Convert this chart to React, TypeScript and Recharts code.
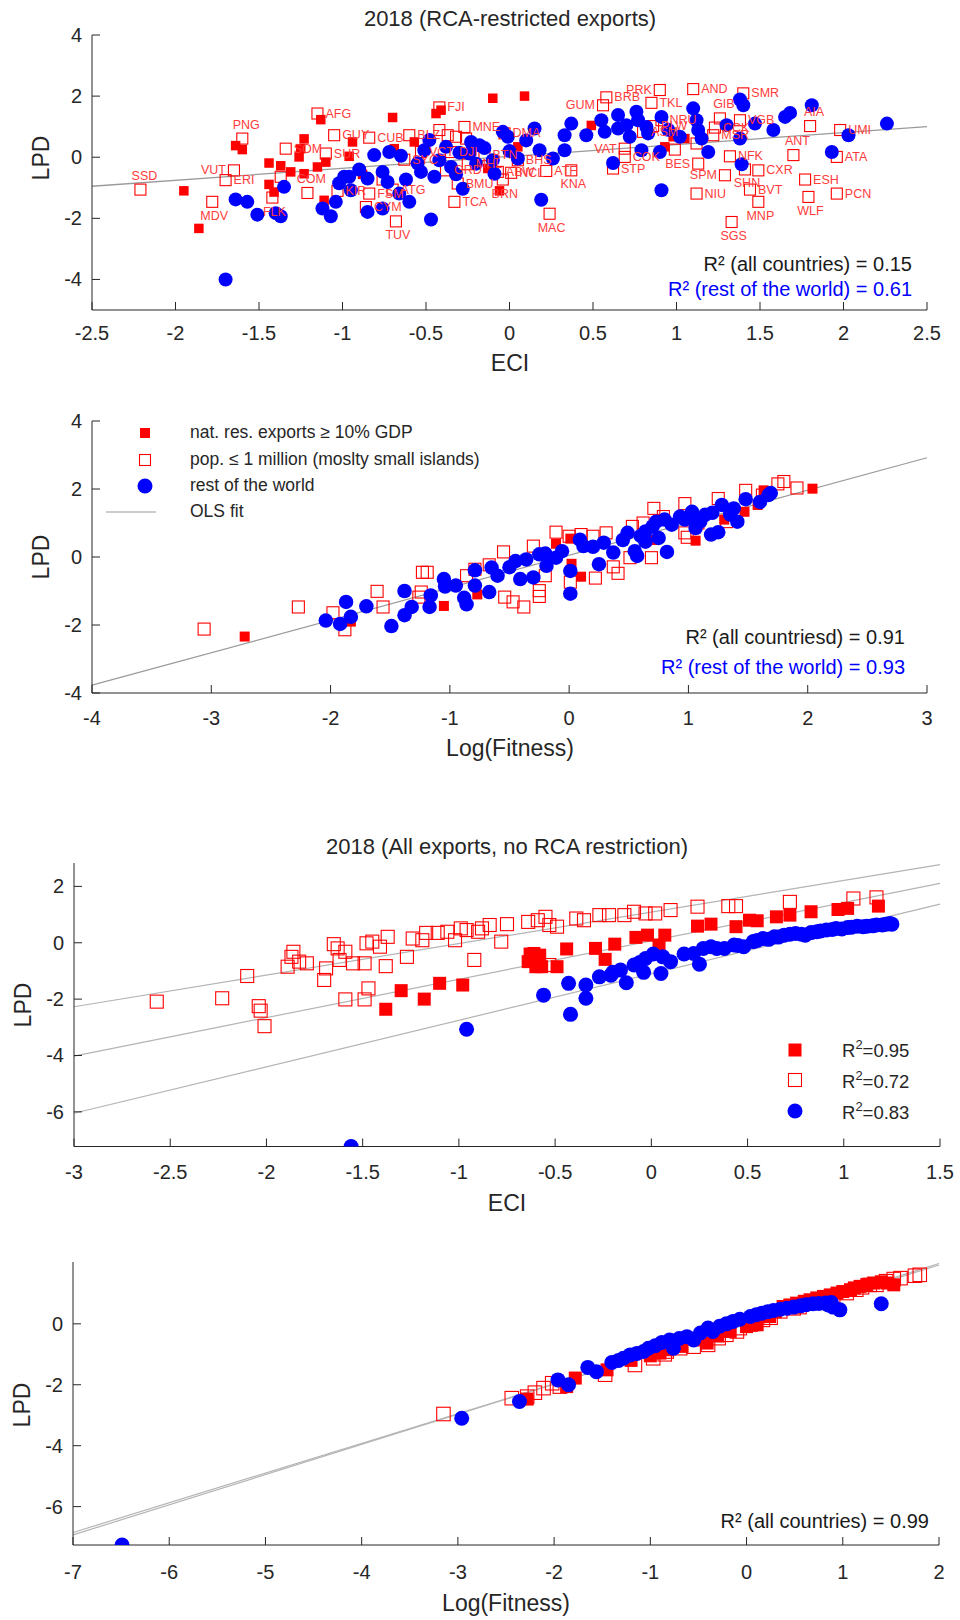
import React from 'react';
import { ScatterChart, Scatter, XAxis, YAxis, ReferenceLine } from 'recharts';

const FONT = '"Liberation Sans", Arial, Helvetica, sans-serif';
const AX = '#262626';
const RED = '#ff0000';
const BLUE = '#0000ff';
const LABEL_RED = '#ff3b3b';
const FIT_DARK = '#9a9a9a';
const FIT_LIGHT = '#b4b4b4';

type Pair = [number, number];
type Coded = [string, number, number];

// ---------------- Panel 1: ECI (RCA-restricted) vs LPD ----------------
const p1XTicks = [-2.5, -2, -1.5, -1, -0.5, 0, 0.5, 1, 1.5, 2, 2.5];
const p1YTicks = [-4, -2, 0, 2, 4];
const p1NatRes: Pair[] = [
  [-1.95, -1.1], [-1.86, -2.33], [-1.64, 0.38], [-1.6, 0.25], [-1.44, -0.19], [-1.37, -0.28],
  [-1.44, -0.89], [-1.41, -1.14], [-1.31, -0.48], [-1.23, 0.6], [-1.25, 0.28], [-1.26, 0.01],
  [-1.15, -0.32], [-1.1, -0.16], [-1.13, 1.23], [-0.96, 0.03], [-0.94, 0.5], [-1.11, -1.41],
  [-0.7, 1.3], [-0.69, 0.28], [-0.88, -0.56], [-0.44, 1.43], [-0.41, 1.54], [-0.1, 1.93],
  [0.09, 2.0], [0.05, 0.34], [-0.13, -0.37], [-0.06, -1.1], [0.49, 1.04], [0.93, 0.34],
  [0.98, 0.67], [1.05, 0.61], [-0.57, 0.5], [-1.23, -0.54],
];
const p1Rest: Pair[] = [
  [-1.7, -4.0], [-1.64, -1.38], [-1.57, -1.46], [-1.51, -1.88], [-1.4, -1.83], [-1.37, -1.93],
  [-1.35, -0.97], [-1.12, -1.68], [-1.07, -1.93], [-1.04, -1.46], [-0.99, -0.64], [-0.96, -0.64],
  [-0.95, -1.08], [-0.85, -0.7], [-0.85, -1.79], [-0.81, 0.07], [-0.76, -0.48], [-0.76, -1.68],
  [-0.72, 0.17], [-0.73, -0.81], [-0.66, -1.19], [-0.62, -0.73], [-0.6, -1.46], [-0.53, -0.48],
  [-0.51, 0.23], [-0.48, 0.56], [-0.47, -2.04], [-0.45, -0.64], [-0.42, -0.1], [-0.38, 0.34],
  [-0.35, -0.32], [-0.32, -0.56], [-0.28, -1.03], [-0.24, 0.12], [-0.23, 0.5], [-0.18, 0.39],
  [-0.2, -0.21], [-0.1, -0.1], [-0.09, -0.54], [-0.04, 0.83], [-0.01, 0.67], [0.05, -0.04],
  [0.15, 0.94], [0.18, 0.23], [0.19, -1.39], [0.26, -0.04], [0.33, 0.23], [0.33, 0.72],
  [0.37, 1.1], [0.46, 0.72], [0.55, 1.21], [0.57, 0.83], [0.62, -0.19], [0.65, 1.38],
  [0.65, 0.94], [0.72, 0.67], [0.76, 1.49], [0.77, 1.21], [0.79, 0.23], [0.82, 0.99],
  [0.83, 0.78], [0.91, -1.08], [0.91, 1.32], [0.9, 0.17], [1.02, 0.67], [1.1, 1.6],
  [1.12, 1.21], [1.13, 0.89], [1.15, 0.61], [1.19, 0.17], [1.3, 1.05], [1.38, 1.89],
  [1.4, 1.7], [1.38, 0.61], [1.39, -0.23], [1.47, 1.1], [1.58, 0.89], [1.65, 1.32],
  [1.68, 1.45], [1.81, 1.7], [1.93, 0.17], [2.03, 0.72], [2.26, 1.1], [-0.9, -0.4],
  [-0.65, 0.05], [-0.55, -0.2], [-0.3, 0.15], [-0.15, 0.3], [0.1, 0.55], [0.0, 0.2],
  [0.7, 1.05], [0.95, 0.9], [-1.02, -0.85],
];
const p1Small: Coded[] = [
  ['SSD', -2.21, -1.06], ['MDV', -1.78, -1.46], ['PNG', -1.6, 0.61], ['VUT', -1.65, -0.43],
  ['ERI', -1.7, -0.75], ['AFG', -1.15, 1.43], ['SOM', -1.34, 0.28], ['GUY', -1.05, 0.72],
  ['SUR', -1.1, 0.12], ['CUB', -0.84, 0.64], ['COM', -1.21, -1.17], ['FLK', -1.42, -1.32],
  ['KIR', -1.03, -1.1], ['FSM', -0.84, -1.19], ['CYM', -0.86, -1.63], ['ATG', -0.7, -1.06],
  ['TUV', -0.68, -2.1], ['TCA', -0.33, -1.46], ['MAC', 0.24, -1.85], ['SGS', 1.33, -2.12],
  ['FJI', -0.42, 1.63], ['MNE', -0.27, 0.99], ['BLZ', -0.6, 0.72], ['SYC', -0.63, -0.08],
  ['VCT', -0.53, 0.17], ['DJI', -0.35, 0.17], ['GRD', -0.38, -0.43], ['BMU', -0.31, -0.86],
  ['BTN', -0.15, 0.07], ['MHL', -0.25, -0.23], ['DMA', -0.03, 0.78], ['BHS', 0.05, -0.1],
  ['ABW', -0.07, -0.48], ['NCL', 0.01, -0.51], ['BRN', -0.04, -0.73], ['ATF', 0.22, -0.45],
  ['KNA', 0.37, -0.43], ['GUM', 0.56, 1.7], ['BRB', 0.58, 1.96], ['PRK', 0.9, 2.2],
  ['TKL', 0.85, 1.78], ['AND', 1.1, 2.23], ['SMR', 1.4, 2.09], ['NRU', 0.91, 1.21],
  ['PLW', 0.86, 1.02], ['ASM', 0.8, 0.83], ['VAT', 0.69, 0.28], ['COK', 0.69, 0.01],
  ['STP', 0.62, -0.37], ['MSR', 1.22, 0.72], ['GIB', 1.26, 1.27], ['CCK', 1.23, 0.97],
  ['VGB', 1.38, 1.21], ['AIA', 1.8, 1.02], ['UMI', 1.98, 0.89], ['ANT', 1.7, 0.07],
  ['ATA', 1.96, 0.01], ['BES', 1.13, -0.21], ['NFK', 1.32, 0.03], ['SPM', 1.29, -0.59],
  ['SHN', 1.41, -0.4], ['CXR', 1.49, -0.43], ['ESH', 1.77, -0.73], ['NIU', 1.12, -1.19],
  ['BVT', 1.44, -1.06], ['MNP', 1.49, -1.46], ['WLF', 1.79, -1.3], ['PCN', 1.96, -1.19],
  ['', -0.42, 0.89], ['', -0.37, 0.72], ['', -0.32, 0.67], ['', -0.26, 0.61],
  ['', -1.37, -0.64], ['', -0.76, -0.73], ['', 0.99, 0.25], ['', 1.12, 0.45],
];
const p1Fit: Pair[] = [[-2.5, -0.95], [2.5, 1.0]];

// where a country code sits relative to its marker (layout, default: right)
const LABEL_SIDE: Record<string, 'a' | 'b' | 'l'> = {
  SSD: 'a', PNG: 'a', COM: 'a', ANT: 'a', AIA: 'a', GIB: 'a',
  MDV: 'b', FLK: 'b', TUV: 'b', MAC: 'b', SGS: 'b', MNP: 'b', WLF: 'b', KNA: 'b', SHN: 'b', BRN: 'b',
  VUT: 'l', GUM: 'l', PRK: 'l', VAT: 'l', BES: 'l', SPM: 'l',
};

// ---------------- Panel 2: Log(Fitness) (RCA-restricted) vs LPD ----------------
const p2XTicks = [-4, -3, -2, -1, 0, 1, 2, 3];
const p2YTicks = [-4, -2, 0, 2, 4];
const p2NatRes: Pair[] = [
  [-2.72, -2.34], [-1.83, -1.9], [-1.05, -1.44], [-0.77, -1.1], [-0.11, 0.39], [0.01, 0.54],
  [0.1, -0.58], [0.02, -0.2], [1.06, 0.48], [1.47, 1.33], [1.58, 1.53], [1.63, 1.96],
  [2.04, 2.01], [0.72, 0.5], [1.3, 1.1],
];
const p2Small: Pair[] = [
  [-3.06, -2.12], [-2.27, -1.47], [-1.98, -1.64], [-1.88, -2.14], [-1.61, -1.01], [-1.56, -1.47],
  [-1.23, -0.45], [-1.19, -0.45], [-1.24, -1.03], [-1.26, -1.18], [-0.86, -0.55], [-0.79, -0.36],
  [-0.67, -0.23], [-0.55, 0.15], [-0.54, -1.18], [-0.47, -1.32], [-0.38, -1.47], [-0.3, 0.32],
  [-0.25, -0.99], [-0.25, -1.16], [-0.2, -0.55], [-0.11, 0.73], [0.0, 0.61], [0.01, -0.74],
  [0.1, 0.66], [0.2, 0.61], [0.22, -0.62], [0.31, 0.71], [0.37, -0.29], [0.41, -0.48],
  [0.51, -0.02], [0.53, 0.9], [0.62, 1.0], [0.69, -0.02], [0.71, 1.43], [0.97, 1.57],
  [0.79, 1.19], [0.99, 0.58], [0.97, 0.71], [1.08, 1.0], [1.25, 1.72], [1.32, 1.04],
  [1.48, 1.96], [1.75, 2.15], [1.8, 2.22], [1.91, 2.03], [1.62, 1.82],
];
const p2Rest: Pair[] = [
  [-2.04, -1.87], [-1.92, -1.97], [-1.87, -1.32], [-1.83, -1.76], [-1.7, -1.45], [-1.49, -2.03],
  [-1.38, -1.0], [-1.38, -1.71], [-1.32, -1.47], [-1.17, -1.47], [-1.16, -1.13], [-1.05, -0.65],
  [-1.04, -0.87], [-0.95, -0.84], [-0.88, -1.2], [-0.86, -1.39], [-0.79, -0.39], [-0.79, -0.84],
  [-0.67, -1.03], [-0.65, -0.31], [-0.6, -0.55], [-0.45, -0.12], [-0.41, -0.65], [-0.36, -0.07],
  [-0.3, -0.6], [-0.25, 0.08], [-0.19, -0.26], [-0.11, -0.02], [-0.06, 0.17], [0.01, -0.41],
  [0.01, -1.08], [0.09, 0.51], [0.12, 0.32], [0.25, -0.21], [0.29, 0.42], [0.37, 0.13],
  [0.49, 0.71], [0.55, 0.17], [0.57, 0.03], [0.64, 0.75], [0.73, 1.04], [0.75, 0.56],
  [0.82, 0.15], [0.86, 0.95], [0.93, 1.19], [1.03, 1.33], [1.06, 0.85], [1.14, 1.24],
  [1.19, 0.66], [1.25, 0.73], [1.28, 1.53], [1.38, 1.43], [1.41, 1.04], [1.48, 1.7],
  [1.6, 1.62], [1.67, 1.82], [1.69, 1.88], [0.64, 0.45], [0.97, 1.1], [0.45, 0.5],
  [0.7, 0.9], [0.8, 1.1], [1.0, 1.15], [1.1, 1.05], [1.2, 1.3], [1.35, 1.25], [0.6, 0.62],
  [-0.5, -0.3], [-0.2, 0.1], [0.2, 0.3],
];
const p2Fit: Pair[] = [[-4, -3.77], [3, 2.92]];

// ---------------- Panel 3: ECI (all exports) vs LPD ----------------
const p3XTicks = [-3, -2.5, -2, -1.5, -1, -0.5, 0, 0.5, 1, 1.5];
const p3YTicks = [-6, -4, -2, 0, 2];
const p3NatRes: Pair[] = [
  [-1.38, -2.36], [-1.3, -1.7], [-1.18, -2.0], [-1.1, -1.44], [-0.98, -1.5], [-0.64, -0.67],
  [-0.61, -0.38], [-0.6, -0.85], [-0.63, -0.4], [-0.58, -0.44], [-0.57, -0.85], [-0.49, -0.85],
  [-0.44, -0.22], [-0.29, -0.2], [-0.24, -0.59], [-0.19, -0.05], [-0.08, 0.19], [-0.02, 0.27],
  [0.07, 0.27], [0.04, -0.08], [0.24, 0.59], [0.31, 0.66], [0.44, 0.57], [0.51, 0.8],
  [0.55, 0.78], [0.65, 0.92], [0.72, 0.98], [0.83, 1.1], [0.97, 1.18], [1.02, 1.22], [1.18, 1.3],
];
const p3Small: Pair[] = [
  [-2.57, -2.09], [-2.23, -1.97], [-2.1, -1.18], [-2.04, -2.25], [-2.03, -2.41], [-2.01, -2.96],
  [-1.89, -0.85], [-1.87, -0.5], [-1.86, -0.32], [-1.83, -0.67], [-1.79, -0.73], [-1.7, -1.32],
  [-1.69, -0.91], [-1.65, -0.05], [-1.63, -0.2], [-1.62, -0.61], [-1.59, -0.32], [-1.55, -0.73],
  [-1.49, -0.73], [-1.59, -2.01], [-1.49, -2.01], [-1.47, -1.62], [-1.48, -0.02], [-1.45, 0.04],
  [-1.41, -0.14], [-1.38, -0.83], [-1.37, 0.21], [-1.27, -0.5], [-1.24, 0.15], [-1.19, 0.09],
  [-1.17, 0.35], [-1.11, 0.35], [-1.06, 0.39], [-1.02, 0.09], [-0.99, 0.51], [-0.96, 0.45],
  [-0.92, -0.61], [-0.9, 0.39], [-0.88, 0.51], [-0.84, 0.63], [-0.78, 0.04], [-0.75, 0.66],
  [-0.64, 0.74], [-0.59, 0.8], [-0.55, 0.92], [-0.53, 0.63], [-0.49, 0.57], [-0.39, 0.86],
  [-0.35, 0.8], [-0.27, 0.98], [-0.22, 0.98], [-0.14, 0.98], [-0.09, 1.1], [-0.03, 1.04],
  [0.02, 1.04], [0.1, 1.16], [0.24, 1.28], [0.4, 1.3], [0.44, 1.3], [0.72, 1.45],
  [1.05, 1.57], [1.17, 1.61], [-0.53, -0.79],
];
const p3Rest: Pair[] = [
  [-1.56, -7.23], [-0.96, -3.07], [-0.56, -1.86], [-0.43, -1.44], [-0.42, -2.54], [-0.34, -1.97],
  [-0.34, -1.5], [-0.27, -1.21], [-0.21, -1.15], [-0.16, -0.97], [-0.13, -1.42], [-0.09, -0.79],
  [-0.04, -1.05], [-0.03, -0.56], [0.01, -0.4], [0.05, -1.09], [0.06, -0.5], [0.1, -0.67],
  [0.17, -0.4], [0.22, -0.38], [0.25, -0.76], [0.31, -0.14], [0.34, -0.2], [0.38, -0.2],
  [0.43, -0.08], [0.48, -0.14], [0.53, 0.04], [0.58, 0.15], [0.61, 0.12], [0.64, 0.21],
  [0.69, 0.27], [0.72, 0.3], [0.75, 0.33], [0.8, 0.27], [0.83, 0.36], [0.86, 0.39],
  [0.91, 0.45], [0.96, 0.51], [0.99, 0.49], [1.02, 0.54], [1.07, 0.59], [1.12, 0.59],
  [1.17, 0.63], [1.2, 0.63], [1.22, 0.66], [1.25, 0.66], [0.27, -0.2], [0.45, -0.1],
  [0.55, 0.08], [0.66, 0.2], [0.78, 0.3], [0.88, 0.42], [0.94, 0.47], [1.04, 0.55],
  [1.1, 0.57], [1.15, 0.6], [1.24, 0.68], [-0.2, -1.05], [-0.06, -0.7],
];
const p3FitNatRes: Pair[] = [[-3, -4.02], [1.5, 2.11]];
const p3FitSmall: Pair[] = [[-3, -2.27], [1.5, 2.77]];
const p3FitRest: Pair[] = [[-3, -6.05], [1.5, 1.37]];

// ---------------- Panel 4: Log(Fitness) (all exports) vs LPD ----------------
const p4XTicks = [-7, -6, -5, -4, -3, -2, -1, 0, 1, 2];
const p4YTicks = [-6, -4, -2, 0];
const p4NatRes: Pair[] = [
  [-2.28, -2.47], [-1.78, -1.78], [-1.87, -2.06], [-1.45, -1.51], [-0.9, -0.96], [-0.83, -0.85],
  [-0.67, -0.74], [-0.48, -0.53], [-0.41, -0.63], [-0.17, -0.25], [0.0, -0.09], [0.11, -0.03],
  [0.24, 0.24], [0.38, 0.57], [0.52, 0.68], [0.66, 0.79], [0.8, 0.9], [0.94, 1.01],
  [1.08, 1.12], [1.18, 1.23], [1.32, 1.34], [1.46, 1.34], [1.53, 1.28], [-0.3, -0.4],
  [0.05, -0.05], [0.3, 0.4], [0.45, 0.62], [0.6, 0.74], [0.73, 0.85], [0.87, 0.95],
  [1.0, 1.06], [1.12, 1.18], [1.25, 1.29], [1.4, 1.38], [-1.2, -1.2], [-1.0, -1.05],
];
const p4Small: Pair[] = [
  [-3.15, -2.96], [-2.44, -2.44], [-2.28, -2.39], [-2.2, -2.26], [-2.11, -2.11], [-2.02, -1.95],
  [-1.94, -2.06], [-1.47, -1.67], [-1.16, -1.35], [-0.97, -1.13], [-0.83, -0.91], [-0.69, -0.8],
  [-0.4, -0.69], [-0.29, -0.47], [-0.21, -0.36], [-0.07, -0.14], [0.07, 0.0], [0.17, 0.13],
  [0.35, 0.41], [0.49, 0.51], [0.63, 0.68], [0.76, 0.79], [0.9, 0.9], [1.04, 1.01],
  [1.14, 1.12], [1.28, 1.28], [1.35, 1.28], [1.53, 1.47], [1.75, 1.58], [1.8, 1.61],
  [-0.55, -0.75], [-0.85, -1.0], [-0.1, -0.25], [0.25, 0.2], [0.55, 0.55], [1.2, 1.2],
  [1.6, 1.5], [1.45, 1.4],
];
const p4Rest: Pair[] = [
  [-6.49, -7.26], [-2.96, -3.1], [-2.36, -2.55], [-1.96, -1.84], [-1.85, -2.0], [-1.65, -1.43],
  [-1.56, -1.57], [-1.4, -1.27], [-1.28, -1.13], [-1.21, -1.02], [-1.07, -0.91], [-1.02, -0.8],
  [-0.88, -0.61], [-0.8, -0.53], [-0.76, -0.8], [-0.62, -0.42], [-0.55, -0.53], [-0.4, -0.14],
  [-0.35, -0.25], [-0.21, 0.0], [-0.07, 0.15], [0.04, 0.24], [0.16, 0.35], [0.28, 0.44],
  [0.42, 0.51], [0.56, 0.59], [0.69, 0.66], [0.82, 0.68], [0.88, 0.7], [0.97, 0.46], [1.4, 0.66],
  [-1.33, -1.2], [-1.14, -0.97], [-0.95, -0.72], [-0.7, -0.48], [-0.48, -0.3], [-0.28, -0.08],
  [-0.14, 0.08], [0.1, 0.3], [0.22, 0.4], [0.35, 0.48], [0.49, 0.55], [0.62, 0.63],
  [0.75, 0.67], [0.85, 0.62], [0.9, 0.55],
];
const p4FitA: Pair[] = [[-7, -6.93], [2, 1.98]];
const p4FitB: Pair[] = [[-7, -6.85], [2, 1.93]];

// ---------------- helpers ----------------
const pts = (a: Pair[]) => a.map(([x, y]) => ({ x, y }));
const coded = (a: Coded[]) => a.map(([code, x, y]) => ({ code, x, y }));
const seg = (a: Pair[]) => a.map(([x, y]) => ({ x, y }));

const filledSquare = (s: number) => (p: any) => (
  <rect x={p.cx - s / 2} y={p.cy - s / 2} width={s} height={s} fill={RED} />
);
const openSquare = (s: number) => (p: any) => (
  <rect x={p.cx - s / 2} y={p.cy - s / 2} width={s} height={s} fill="none" stroke={RED} strokeWidth={1.1} />
);
const dot = (d: number) => (p: any) => <circle cx={p.cx} cy={p.cy} r={d / 2} fill={BLUE} />;

const codeLabel = (p: any) => {
  const code = p.payload?.code;
  if (!code) return <g />;
  const side = LABEL_SIDE[code];
  let x = p.cx + 8;
  let y = p.cy + 4;
  let anchor: 'start' | 'middle' | 'end' = 'start';
  if (side === 'a') { x = p.cx + 4; y = p.cy - 10; anchor = 'middle'; }
  if (side === 'b') { x = p.cx + 2; y = p.cy + 18; anchor = 'middle'; }
  if (side === 'l') { x = p.cx - 8; anchor = 'end'; }
  return (
    <text x={x} y={y} textAnchor={anchor} fontSize={12.5} fill={LABEL_RED} fontFamily={FONT}>
      {code}
    </text>
  );
};

const xTick = (offset: number) => (p: any) => (
  <g>
    <line x1={p.x} x2={p.x} y1={p.y} y2={p.y - 8} stroke={AX} strokeWidth={1} />
    <text x={p.x} y={p.y + offset} textAnchor="middle" fontSize={20} fill={AX} fontFamily={FONT}>
      {String(p.payload.value)}
    </text>
  </g>
);
const yTick = (p: any) => (
  <g>
    <line x1={p.x} x2={p.x + 8} y1={p.y} y2={p.y} stroke={AX} strokeWidth={1} />
    <text x={p.x - 10} y={p.y + 7} textAnchor="end" fontSize={20} fill={AX} fontFamily={FONT}>
      {String(p.payload.value)}
    </text>
  </g>
);

type PanelProps = {
  top: number;
  height: number;
  left: number;
  right: number;
  plotTop: number;
  plotBottom: number;
  xDomain: [number, number];
  yDomain: [number, number];
  xTicks: number[];
  yTicks: number[];
  tickOffset: number;
  children: React.ReactNode;
};

function Panel(props: PanelProps) {
  const { top, height, left, right, plotTop, plotBottom, xDomain, yDomain, xTicks, yTicks, tickOffset, children } = props;
  return (
    <div style={{ position: 'absolute', left: 0, top, width: 960, height }}>
      <ScatterChart
        width={960}
        height={height}
        margin={{ top: plotTop, right: 960 - right, bottom: 0, left: 0 }}
      >
        <XAxis
          type="number"
          dataKey="x"
          domain={xDomain}
          ticks={xTicks}
          interval={0}
          height={height - plotBottom}
          tickSize={0}
          tickMargin={0}
          tickLine={false}
          axisLine={{ stroke: AX, strokeWidth: 1 }}
          tick={xTick(tickOffset)}
          allowDataOverflow
        />
        <YAxis
          type="number"
          dataKey="y"
          domain={yDomain}
          ticks={yTicks}
          interval={0}
          width={left}
          tickSize={0}
          tickMargin={0}
          tickLine={false}
          axisLine={{ stroke: AX, strokeWidth: 1 }}
          tick={yTick}
          allowDataOverflow
        />
        {children}
      </ScatterChart>
    </div>
  );
}

const textBase: React.CSSProperties = {
  position: 'absolute',
  fontFamily: FONT,
  whiteSpace: 'nowrap',
  lineHeight: 1,
};

function Centered({ x, y, size, children, color = AX }: { x: number; y: number; size: number; children: React.ReactNode; color?: string }) {
  return (
    <div style={{ ...textBase, left: x, top: y, fontSize: size, color, transform: 'translate(-50%, -50%)' }}>
      {children}
    </div>
  );
}
function RightText({ x, y, size, children, color = '#1a1a1a' }: { x: number; y: number; size: number; children: React.ReactNode; color?: string }) {
  return (
    <div style={{ ...textBase, right: 960 - x, top: y, fontSize: size, color, transform: 'translateY(-50%)' }}>
      {children}
    </div>
  );
}
function VLabel({ x, y, size, children }: { x: number; y: number; size: number; children: React.ReactNode }) {
  return (
    <div style={{ ...textBase, left: x, top: y, fontSize: size, color: AX, transform: 'translate(-50%, -50%) rotate(-90deg)' }}>
      {children}
    </div>
  );
}

function LegendMarker({ kind, size }: { kind: 'filled' | 'open' | 'dot' | 'line'; size: number }) {
  if (kind === 'line') {
    return (
      <svg width={50} height={10} style={{ display: 'block' }}>
        <line x1={0} x2={50} y1={5} y2={5} stroke={FIT_DARK} strokeWidth={1.2} />
      </svg>
    );
  }
  const w = 18;
  return (
    <svg width={w} height={w} style={{ display: 'block' }}>
      {kind === 'filled' && <rect x={(w - size) / 2} y={(w - size) / 2} width={size} height={size} fill={RED} />}
      {kind === 'open' && (
        <rect x={(w - size) / 2} y={(w - size) / 2} width={size} height={size} fill="none" stroke={RED} strokeWidth={1.1} />
      )}
      {kind === 'dot' && <circle cx={w / 2} cy={w / 2} r={size / 2} fill={BLUE} />}
    </svg>
  );
}

function Abs({ x, y, children }: { x: number; y: number; children: React.ReactNode }) {
  return <div style={{ position: 'absolute', left: x, top: y, transform: 'translate(-50%, -50%)' }}>{children}</div>;
}

const R2 = () => (
  <span>
    R<sup style={{ fontSize: '0.7em', verticalAlign: '0.6em', lineHeight: 0 }}>2</sup>
  </span>
);

export default function App() {
  return (
    <div style={{ position: 'absolute', left: 0, top: 0, width: 960, height: 1620, background: '#fff', fontFamily: FONT }}>
      {/* Panel 1 */}
      <Panel top={0} height={380} left={92} right={927} plotTop={35} plotBottom={310}
        xDomain={[-2.5, 2.5]} yDomain={[-5, 4]} xTicks={p1XTicks} yTicks={p1YTicks} tickOffset={30}>
        <Scatter data={pts(p1NatRes)} shape={filledSquare(9.5)} isAnimationActive={false} />
        <Scatter data={coded(p1Small)} shape={openSquare(11)} isAnimationActive={false} />
        <Scatter data={pts(p1Rest)} shape={dot(14)} isAnimationActive={false} />
        <ReferenceLine segment={seg(p1Fit)} stroke={FIT_DARK} strokeWidth={1.3} />
        <Scatter data={coded(p1Small)} shape={codeLabel} isAnimationActive={false} />
      </Panel>
      <Centered x={510} y={19} size={22}>2018 (RCA-restricted exports)</Centered>
      <Centered x={510} y={363} size={23}>ECI</Centered>
      <VLabel x={41} y={158} size={23}>LPD</VLabel>
      <RightText x={912} y={264} size={20}>R² (all countries) = 0.15</RightText>
      <RightText x={912} y={289} size={20} color={BLUE}>R² (rest of the world) = 0.61</RightText>

      {/* Panel 2 */}
      <Panel top={380} height={400} left={92} right={927} plotTop={41} plotBottom={313}
        xDomain={[-4, 3]} yDomain={[-4, 4]} xTicks={p2XTicks} yTicks={p2YTicks} tickOffset={32}>
        <Scatter data={pts(p2NatRes)} shape={filledSquare(10)} isAnimationActive={false} />
        <Scatter data={pts(p2Small)} shape={openSquare(12)} isAnimationActive={false} />
        <Scatter data={pts(p2Rest)} shape={dot(14.5)} isAnimationActive={false} />
        <ReferenceLine segment={seg(p2Fit)} stroke={FIT_DARK} strokeWidth={1.2} />
      </Panel>
      <Abs x={145} y={433}><LegendMarker kind="filled" size={10} /></Abs>
      <Abs x={145} y={460}><LegendMarker kind="open" size={11} /></Abs>
      <Abs x={145} y={486}><LegendMarker kind="dot" size={15} /></Abs>
      <Abs x={131} y={512}><LegendMarker kind="line" size={0} /></Abs>
      <div style={{ ...textBase, left: 190, top: 433, fontSize: 17.5, color: AX, transform: 'translateY(-50%)' }}>nat. res. exports ≥ 10% GDP</div>
      <div style={{ ...textBase, left: 190, top: 460, fontSize: 17.5, color: AX, transform: 'translateY(-50%)' }}>pop. ≤ 1 million (moslty small islands)</div>
      <div style={{ ...textBase, left: 190, top: 486, fontSize: 17.5, color: AX, transform: 'translateY(-50%)' }}>rest of the world</div>
      <div style={{ ...textBase, left: 190, top: 512, fontSize: 17.5, color: AX, transform: 'translateY(-50%)' }}>OLS fit</div>
      <Centered x={510} y={748} size={23}>Log(Fitness)</Centered>
      <VLabel x={41} y={557} size={23}>LPD</VLabel>
      <RightText x={905} y={637} size={20}>R² (all countriesd) = 0.91</RightText>
      <RightText x={905} y={667} size={20} color={BLUE}>R² (rest of the world) = 0.93</RightText>

      {/* Panel 3 */}
      <Panel top={780} height={440} left={74} right={940} plotTop={83} plotBottom={366.5}
        xDomain={[-3, 1.5]} yDomain={[-7.23, 2.83]} xTicks={p3XTicks} yTicks={p3YTicks} tickOffset={32}>
        <Scatter data={pts(p3Small)} shape={openSquare(13)} isAnimationActive={false} />
        <Scatter data={pts(p3NatRes)} shape={filledSquare(13)} isAnimationActive={false} />
        <Scatter data={pts(p3Rest)} shape={dot(15)} isAnimationActive={false} />
        <ReferenceLine segment={seg(p3FitSmall)} stroke={FIT_LIGHT} strokeWidth={1.2} />
        <ReferenceLine segment={seg(p3FitNatRes)} stroke={FIT_LIGHT} strokeWidth={1.2} />
        <ReferenceLine segment={seg(p3FitRest)} stroke={FIT_LIGHT} strokeWidth={1.2} />
      </Panel>
      <Centered x={507} y={847} size={22}>2018 (All exports, no RCA restriction)</Centered>
      <Abs x={795} y={1050}><LegendMarker kind="filled" size={13} /></Abs>
      <Abs x={795} y={1080}><LegendMarker kind="open" size={13} /></Abs>
      <Abs x={795} y={1111}><LegendMarker kind="dot" size={15} /></Abs>
      <div style={{ ...textBase, left: 842, top: 1051, fontSize: 18.5, color: AX, transform: 'translateY(-50%)' }}><R2 />=0.95</div>
      <div style={{ ...textBase, left: 842, top: 1082, fontSize: 18.5, color: AX, transform: 'translateY(-50%)' }}><R2 />=0.72</div>
      <div style={{ ...textBase, left: 842, top: 1113, fontSize: 18.5, color: AX, transform: 'translateY(-50%)' }}><R2 />=0.83</div>
      <Centered x={507} y={1203} size={23}>ECI</Centered>
      <VLabel x={23} y={1005} size={23}>LPD</VLabel>

      {/* Panel 4 */}
      <Panel top={1220} height={400} left={73} right={939} plotTop={42} plotBottom={325}
        xDomain={[-7, 2]} yDomain={[-7.26, 2.03]} xTicks={p4XTicks} yTicks={p4YTicks} tickOffset={34}>
        <Scatter data={pts(p4Small)} shape={openSquare(13.5)} isAnimationActive={false} />
        <Scatter data={pts(p4NatRes)} shape={filledSquare(13)} isAnimationActive={false} />
        <Scatter data={pts(p4Rest)} shape={dot(15)} isAnimationActive={false} />
        <ReferenceLine segment={seg(p4FitA)} stroke={FIT_LIGHT} strokeWidth={1.2} />
        <ReferenceLine segment={seg(p4FitB)} stroke={FIT_LIGHT} strokeWidth={1.2} />
      </Panel>
      <Centered x={506} y={1603} size={23}>Log(Fitness)</Centered>
      <VLabel x={22} y={1405} size={23}>LPD</VLabel>
      <RightText x={929} y={1521} size={20}>R² (all countries) = 0.99</RightText>
    </div>
  );
}
